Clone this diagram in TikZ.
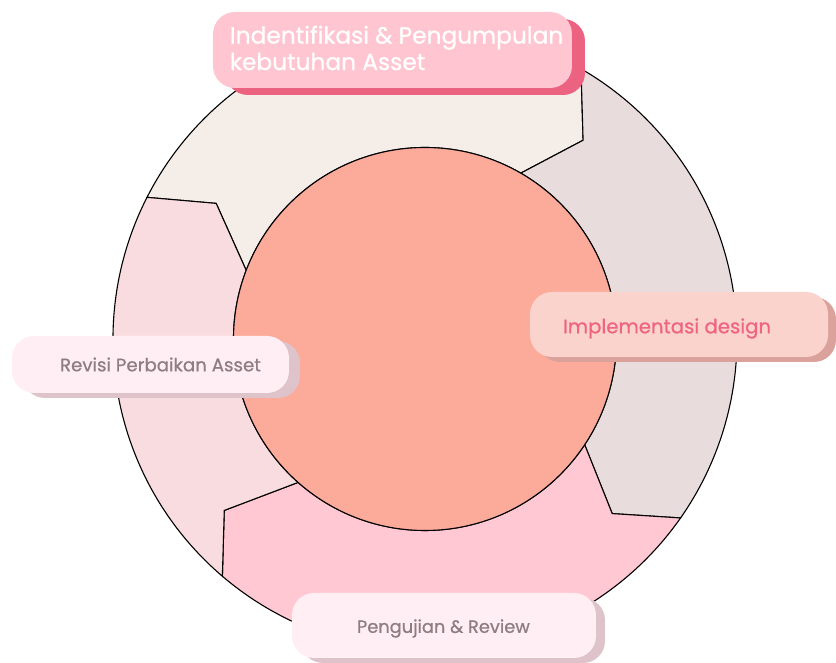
\documentclass[tikz,border=0pt]{standalone}
\usepackage{fontspec}
\setmainfont{Poppins}[FakeBold=0.7]
\usetikzlibrary{shadows}

\definecolor{segtop}{HTML}{F5EDE8}
\definecolor{segright}{HTML}{E8DCDD}
\definecolor{segbottom}{HTML}{FFC8D3}
\definecolor{segleft}{HTML}{F9DCE0}
\definecolor{hub}{HTML}{FCAA9A}
\definecolor{topfill}{HTML}{FFC6D1}
\definecolor{topshade}{HTML}{EC6381}
\definecolor{implfill}{HTML}{FBD3CD}
\definecolor{implshade}{HTML}{DBA29B}
\definecolor{softfill}{HTML}{FFEEF3}
\definecolor{softshade}{HTML}{DEC3CA}
\definecolor{greytext}{HTML}{8C7E84}
\definecolor{pinktext}{HTML}{EE6482}

\tikzset{
	seg/.style={draw=black, line width=1.1pt, line join=miter},
	stepbox/.style={rectangle, rounded corners=22pt, draw=none, inner sep=0pt},
	steptext/.style={inner sep=0pt, anchor=west, align=left}
}

\begin{document}
\begin{tikzpicture}[x=1pt,y=1pt]
	\useasboundingbox (-425,-324) rectangle (411,339);
	% ring, one chevron segment per step
	\draw[seg, fill=segtop] (153:312) arc[start angle=153, end angle=60, radius=312] -- (51.5:254) -- (60:191.5) arc[start angle=60, end angle=159, radius=191.5] -- (147:249) -- cycle;
	\draw[seg, fill=segright] (60:312) arc[start angle=60, end angle=-35, radius=312] -- (-43:256) -- (-33.5:191.5) arc[start angle=-33.5, end angle=60, radius=191.5] -- (51.5:254) -- cycle;
	\draw[seg, fill=segbottom] (-35:312) arc[start angle=-35, end angle=-130.5, radius=312] -- (-139.5:264) -- (-131.5:191.5) arc[start angle=-131.5, end angle=-33.5, radius=191.5] -- (-43:256) -- cycle;
	\draw[seg, fill=segleft] (-130.5:312) arc[start angle=-130.5, end angle=-207, radius=312] -- (147:249) -- (159:191.5) arc[start angle=-201, end angle=-131.5, radius=191.5] -- (-139.5:264) -- cycle;
	\draw[seg, fill=hub] (0,0) circle[radius=191.5];

	% labels
	\node[stepbox, fill=topfill, minimum width=359, minimum height=76, general shadow={fill=topshade, shadow xshift=13pt, shadow yshift=-7pt}] (ident) at (-32.5,289) {};
	\node[steptext, text=white, font=\fontsize{23.3}{26.5}\selectfont] (identtext) at ([xshift=17pt,yshift=2pt]ident.west) {Indentifikasi \& Pengumpulan\\kebutuhan Asset};

	\node[stepbox, fill=implfill, minimum width=298, minimum height=65, general shadow={fill=implshade, shadow xshift=8pt, shadow yshift=-5pt}] (impl) at (254,14.5) {};
	\node[steptext, text=pinktext, font=\fontsize{19.7}{22}\selectfont] (impltext) at ([xshift=33pt,yshift=-4pt]impl.west) {Implementasi design};

	\node[stepbox, fill=softfill, minimum width=277, minimum height=57, general shadow={fill=softshade, shadow xshift=11pt, shadow yshift=-5pt}] (revisi) at (-274.5,-25.5) {};
	\node[steptext, text=greytext, font=\fontsize{18.2}{21}\selectfont] (revisitext) at ([xshift=48pt]revisi.west) {Revisi Perbaikan Asset};

	\node[stepbox, fill=softfill, minimum width=304, minimum height=65, general shadow={fill=softshade, shadow xshift=9pt, shadow yshift=-5pt}] (uji) at (19,-286.5) {};
	\node[steptext, text=greytext, font=\fontsize{17.8}{21}\selectfont] (ujitext) at ([xshift=65pt,yshift=-3pt]uji.west) {Pengujian \& Review};
\end{tikzpicture}
\end{document}
